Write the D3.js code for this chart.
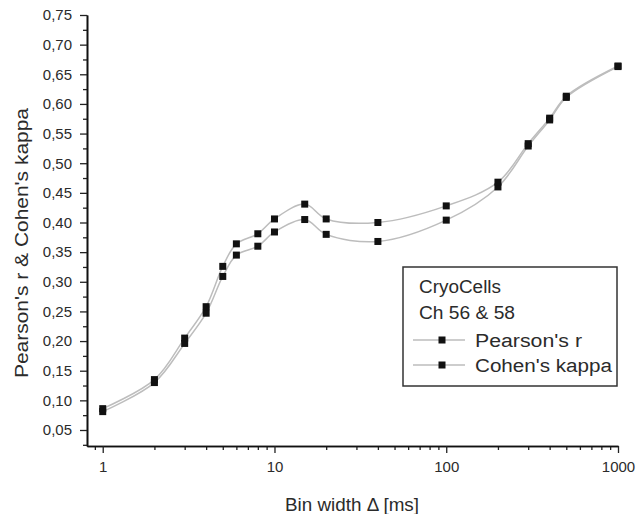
<!DOCTYPE html>
<html>
<head>
<meta charset="utf-8">
<script src="https://cdn.jsdelivr.net/npm/d3@7"></script>
<style>
  body { margin: 0; background: #fff; }
  svg { display: block; }
  text { font-family: "Liberation Sans", Arial, sans-serif; fill: #2b2b2b; }
</style>
</head>
<body>
<svg id="chart" width="636" height="514"></svg>
<script>
// Bin widths (ms) and the two agreement measures
const binWidths  = [1, 2, 3, 4, 5, 6, 8, 10, 15, 20, 40, 100, 200, 300, 400, 500, 1000];
const pearsonR   = [0.086, 0.135, 0.205, 0.258, 0.326, 0.364, 0.381, 0.406, 0.431, 0.406, 0.400, 0.428, 0.468, 0.533, 0.576, 0.613, 0.664];
const cohenKappa = [0.081, 0.130, 0.196, 0.247, 0.309, 0.345, 0.360, 0.384, 0.405, 0.380, 0.368, 0.404, 0.460, 0.529, 0.573, 0.611, 0.663];

const seriesNames = ["Pearson's r", "Cohen's kappa"];
const legendTitle = ["CryoCells", "Ch 56 & 58"];

const xTickValues = [1, 10, 100, 1000];
const xMinorTicks = [0.9, 2, 3, 4, 5, 6, 7, 8, 9, 20, 30, 40, 50, 60, 70, 80, 90, 200, 300, 400, 500, 600, 700, 800, 900];
const yTickValues = [0.05, 0.10, 0.15, 0.20, 0.25, 0.30, 0.35, 0.40, 0.45, 0.50, 0.55, 0.60, 0.65, 0.70, 0.75];
const yMinorTicks = [0.025, 0.075, 0.125, 0.175, 0.225, 0.275, 0.325, 0.375, 0.425, 0.475, 0.525, 0.575, 0.625, 0.675, 0.725];

const xTitle = "Bin width \u0394 [ms]";
const yTitle = "Pearson's r & Cohen's kappa";

const svg = d3.select("#chart");

const x = d3.scaleLog().domain([0.81, 1000]).range([87, 618]);
const y = d3.scaleLinear().domain([0.023, 0.75]).range([446, 15]);

const commaFmt = v => d3.format(".2f")(v).replace(".", ",");

// Axes: minor ticks first, then major ticks with labels
function styleAxis(g) {
  g.select(".domain").attr("stroke", "#111").attr("stroke-width", 1.6);
  g.selectAll(".tick line").attr("stroke", "#222").attr("stroke-width", 1.3);
  g.selectAll(".tick text").style("font-size", "15px").attr("fill", "#333");
}

svg.append("g")
  .attr("transform", `translate(0,${y.range()[0]})`)
  .call(d3.axisBottom(x).tickValues(xMinorTicks).tickSize(4).tickSizeOuter(0).tickFormat(""))
  .call(styleAxis);
svg.append("g")
  .attr("transform", `translate(0,${y.range()[0]})`)
  .call(d3.axisBottom(x).tickValues(xTickValues).tickSize(7).tickSizeOuter(0).tickPadding(8).tickFormat(d3.format("d")))
  .call(styleAxis);

svg.append("g")
  .attr("transform", `translate(${x.range()[0]},0)`)
  .call(d3.axisLeft(y).tickValues(yMinorTicks).tickSize(4).tickSizeOuter(0).tickFormat(""))
  .call(styleAxis);
svg.append("g")
  .attr("transform", `translate(${x.range()[0]},0)`)
  .call(d3.axisLeft(y).tickValues(yTickValues).tickSize(7).tickSizeOuter(0).tickPadding(8).tickFormat(commaFmt))
  .call(styleAxis);

// Axis titles
svg.append("text")
  .attr("x", 352).attr("y", 511)
  .attr("text-anchor", "middle")
  .attr("textLength", 134).attr("lengthAdjust", "spacingAndGlyphs")
  .style("font-size", "18px")
  .text(xTitle);

svg.append("text")
  .attr("transform", "translate(28,243) rotate(-90)")
  .attr("text-anchor", "middle")
  .attr("textLength", 270).attr("lengthAdjust", "spacingAndGlyphs")
  .style("font-size", "18px")
  .text(yTitle);

// Series
const series = [
  { name: seriesNames[1], values: cohenKappa },
  { name: seriesNames[0], values: pearsonR }
];

const line = d3.line()
  .x(d => x(d[0]))
  .y(d => y(d[1]))
  .curve(d3.curveCatmullRom.alpha(0.5));

svg.append("g").selectAll("path")
  .data(series)
  .join("path")
  .attr("d", s => line(binWidths.map((b, i) => [b, s.values[i]])))
  .attr("fill", "none")
  .attr("stroke", "#bdbdbd")
  .attr("stroke-width", 1.5);

const m = 7;
series.forEach(s => {
  svg.append("g").selectAll("rect")
    .data(binWidths.map((b, i) => [b, s.values[i]]))
    .join("rect")
    .attr("x", d => x(d[0]) - m / 2)
    .attr("y", d => y(d[1]) - m / 2)
    .attr("width", m)
    .attr("height", m)
    .attr("fill", "#111");
});

// Legend
const lg = svg.append("g");
lg.append("rect")
  .attr("x", 403).attr("y", 267).attr("width", 214).attr("height", 119)
  .attr("fill", "#fff").attr("stroke", "#333").attr("stroke-width", 1.5);

const titleWidths = [82, 96];
legendTitle.forEach((t, i) => {
  lg.append("text")
    .attr("x", 419).attr("y", 293 + i * 26)
    .attr("textLength", titleWidths[i]).attr("lengthAdjust", "spacingAndGlyphs")
    .style("font-size", "18px")
    .text(t);
});

const entryWidths = [107, 137];
seriesNames.forEach((name, i) => {
  const cy = 340 + i * 25;
  lg.append("line")
    .attr("x1", 413).attr("x2", 465).attr("y1", cy).attr("y2", cy)
    .attr("stroke", "#bdbdbd").attr("stroke-width", 1.5);
  lg.append("rect")
    .attr("x", 442 - m / 2).attr("y", cy - m / 2)
    .attr("width", m).attr("height", m).attr("fill", "#111");
  lg.append("text")
    .attr("x", 475).attr("y", cy + 6.5)
    .attr("textLength", entryWidths[i]).attr("lengthAdjust", "spacingAndGlyphs")
    .style("font-size", "18px")
    .text(name);
});
</script>
</body>
</html>
